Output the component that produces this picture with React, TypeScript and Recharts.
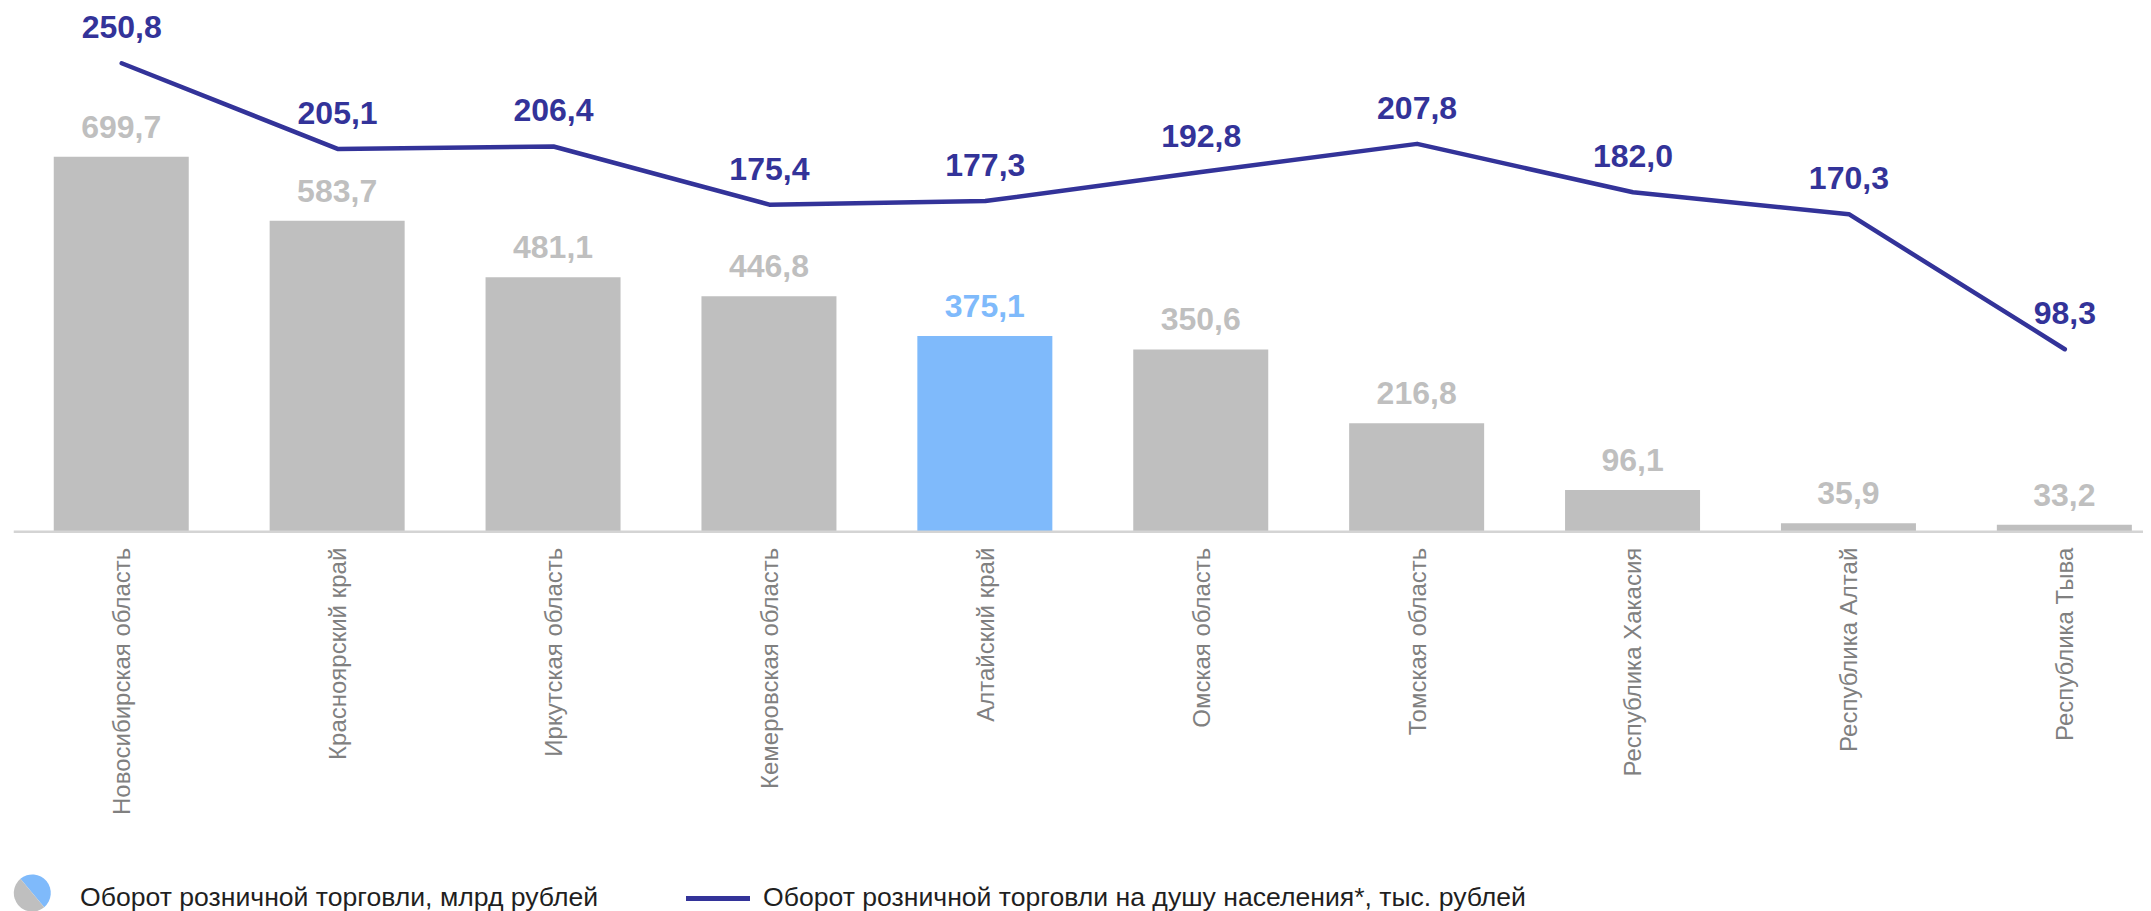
import React from 'react';
import { ComposedChart, Bar, Line, Cell, XAxis, YAxis, LabelList } from 'recharts';

/* ───────── Data ───────── */

const REGIONS = [
  'Новосибирская область',
  'Красноярский край',
  'Иркутская область',
  'Кемеровская область',
  'Алтайский край',
  'Омская область',
  'Томская область',
  'Республика Хакасия',
  'Республика Алтай',
  'Республика Тыва',
];

// Оборот розничной торговли, млрд рублей
const TURNOVER = [699.7, 583.7, 481.1, 446.8, 375.1, 350.6, 216.8, 96.1, 35.9, 33.2];

// Оборот розничной торговли на душу населения, тыс. рублей
const PER_CAPITA = [250.8, 205.1, 206.4, 175.4, 177.3, 192.8, 207.8, 182.0, 170.3, 98.3];

const HIGHLIGHT = 'Алтайский край';

/* ───────── Theme ───────── */

const COLORS = {
  bar: '#bfbfbf',
  highlight: '#7fbafb',
  line: '#333399',
  axis: '#d4d4d4',
  tick: '#808080',
  text: '#1f1f1f',
};

const FONT = '"Liberation Sans", Arial, sans-serif';

const fmt = (v: number) => v.toFixed(1).replace('.', ',');

const data = REGIONS.map((region, i) => ({
  region,
  turnover: TURNOVER[i],
  perCapita: PER_CAPITA[i],
}));

/* ───────── Pieces ───────── */

function RegionTick({ x, y, payload }: any) {
  return (
    <g transform={`translate(${x},${y + 16})`}>
      <text
        transform="rotate(-90)"
        textAnchor="end"
        dy="0.35em"
        fontSize={24}
        fontFamily={FONT}
        fill={COLORS.tick}
      >
        {payload.value}
      </text>
    </g>
  );
}

function BarValueLabel({ x, y, width, value, index }: any) {
  const color = REGIONS[index] === HIGHLIGHT ? COLORS.highlight : COLORS.bar;
  return (
    <text
      x={x + width / 2}
      y={y - 19}
      textAnchor="middle"
      fontSize={32}
      fontWeight="bold"
      fontFamily={FONT}
      fill={color}
    >
      {fmt(value)}
    </text>
  );
}

function LegendRow() {
  const r = 18.5;
  return (
    <svg
      width={2143}
      height={903}
      style={{ position: 'absolute', left: 0, top: 0, pointerEvents: 'none' }}
    >
      <g transform="translate(24.3,885) rotate(50)">
        <path d={`M ${-r} 0 A ${r} ${r} 0 0 1 ${r} 0 Z`} fill={COLORS.highlight} />
        <path d={`M ${r} 0 A ${r} ${r} 0 0 1 ${-r} 0 Z`} fill={COLORS.bar} />
      </g>
      <text x={72} y={898} fontSize={26.6} fontFamily={FONT} fill={COLORS.text}>
        Оборот розничной торговли, млрд рублей
      </text>
      <line x1={678} x2={742} y1={890.5} y2={890.5} stroke={COLORS.line} strokeWidth={5} />
      <text x={755} y={898} fontSize={26.6} fontFamily={FONT} fill={COLORS.text}>
        Оборот розничной торговли на душу населения*, тыс. рублей
      </text>
    </svg>
  );
}

/* ───────── Chart ───────── */

export default function App() {
  return (
    <div style={{ position: 'relative', width: 2143, height: 903, overflow: 'hidden' }}>
      <ComposedChart
        width={2165}
        height={903}
        data={data}
        margin={{ top: 12, right: 0.25, left: 5.75, bottom: 79.3 }}
      >
        <XAxis
          dataKey="region"
          interval={0}
          height={300}
          tickLine={false}
          tickSize={0}
          tickMargin={0}
          axisLine={{ stroke: COLORS.axis, strokeWidth: 2.5 }}
          tick={<RegionTick />}
        />
        <YAxis yAxisId="bars" hide domain={[20.5, 947.2]} allowDataOverflow />
        <YAxis yAxisId="line" hide orientation="right" domain={[1, 273.85]} allowDataOverflow />
        <Bar yAxisId="bars" dataKey="turnover" barSize={135} isAnimationActive={false}>
          {data.map((d, i) => (
            <Cell key={i} fill={d.region === HIGHLIGHT ? COLORS.highlight : COLORS.bar} />
          ))}
          <LabelList dataKey="turnover" content={<BarValueLabel />} />
        </Bar>
        <Line
          yAxisId="line"
          type="linear"
          dataKey="perCapita"
          stroke={COLORS.line}
          strokeWidth={4.5}
          strokeLinecap="round"
          strokeLinejoin="round"
          dot={false}
          activeDot={false}
          isAnimationActive={false}
        >
          <LabelList
            dataKey="perCapita"
            position="top"
            offset={25}
            fill={COLORS.line}
            fontSize={32}
            fontWeight="bold"
            fontFamily={FONT}
            formatter={(v: any) => fmt(Number(v))}
          />
        </Line>
      </ComposedChart>
      <LegendRow />
    </div>
  );
}
